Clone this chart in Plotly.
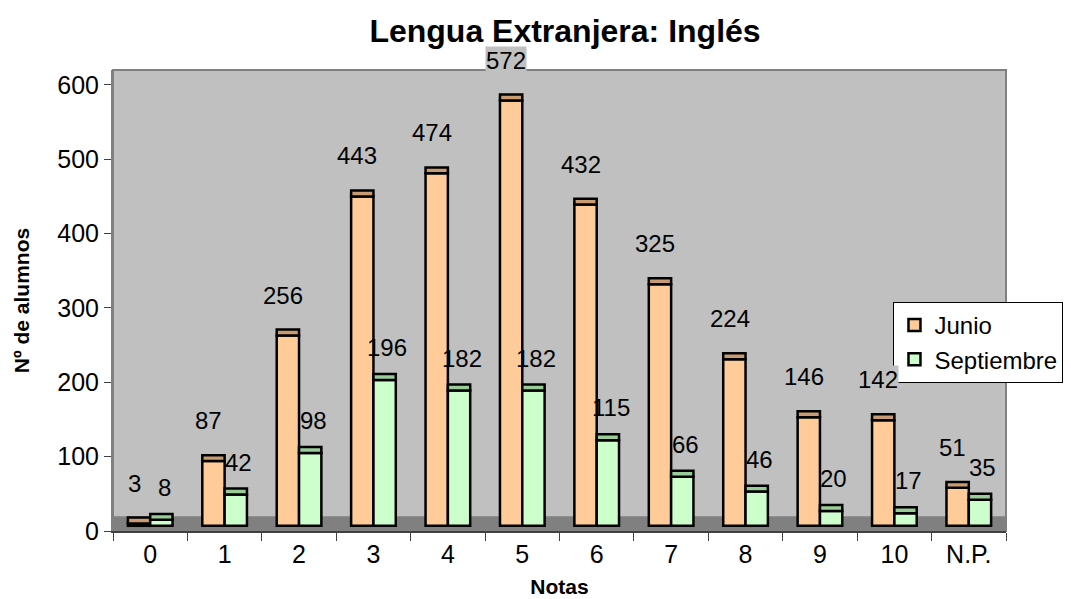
import plotly.graph_objects as go

# Notas y número de alumnos (junio / septiembre)
notas = ["0", "1", "2", "3", "4", "5", "6", "7", "8", "9", "10", "N.P."]
junio = [3, 87, 256, 443, 474, 572, 432, 325, 224, 146, 142, 51]
septiembre = [8, 42, 98, 196, 182, 182, 115, 66, 46, 20, 17, 35]

# pseudo-3D look of the original Excel chart
depth = 7   # front face lifted off the floor
cap = 8     # height of the visible top face
FONT = "Liberation Sans, Arial, sans-serif"

fig = go.Figure()

series = [
    ("Junio", junio, "#FFCC99", "#C89B73", "j"),
    ("Septiembre", septiembre, "#CCFFCC", "#99CC99", "s"),
]
for name, vals, color, top, grp in series:
    fig.add_trace(go.Bar(
        x=notas, y=vals, base=[depth] * len(vals), name=name,
        offsetgroup=grp, marker=dict(color=color, line=dict(color="black", width=2.5)),
        hoverinfo="skip",
    ))
    fig.add_trace(go.Bar(
        x=notas, y=[cap] * len(vals), base=[v + depth for v in vals], name=name,
        offsetgroup=grp, showlegend=False,
        marker=dict(color=top, line=dict(color="black", width=2.5)),
        hoverinfo="skip",
    ))

# data labels
for i, n in enumerate(notas):
    fig.add_annotation(x=n, y=junio[i] + depth + cap, yanchor="bottom", xshift=-16,
                       yshift=20, text=str(junio[i]), showarrow=False,
                       bgcolor="#C0C0C0", borderpad=0,
                       font=dict(size=24, color="black", family=FONT))
    fig.add_annotation(x=n, y=septiembre[i] + depth + cap, yanchor="bottom", xshift=14,
                       yshift=11, text=str(septiembre[i]), showarrow=False,
                       font=dict(size=24, color="black", family=FONT))

# dark floor
fig.add_shape(type="rect", xref="paper", yref="y", x0=0, x1=1, y0=0, y1=20,
              fillcolor="#808080", line_width=0, layer="below")

# the page adds an 8px body margin, so the figure is 8px smaller than the window
fig.update_layout(
    width=1063, height=591,
    margin=dict(l=105, r=65, t=62, b=68, autoexpand=False),
    paper_bgcolor="white", plot_bgcolor="#C0C0C0",
    barmode="group", bargap=0.4, bargroupgap=0,
    font=dict(family=FONT, size=25, color="black"),
    title=dict(text="<b>Lengua Extranjera: Inglés</b>", x=0.524, xanchor="center",
               y=0.961, yanchor="middle", font=dict(size=32, family=FONT)),
    legend=dict(x=0.874, y=0.497, xanchor="left", yanchor="top",
                bgcolor="white", bordercolor="black", borderwidth=1,
                font=dict(size=24, family=FONT)),
    showlegend=True,
)

fig.update_xaxes(
    type="category", showgrid=False, showline=True, linecolor="#404040", linewidth=2,
    ticks="outside", tickson="boundaries", ticklen=8, tickcolor="#404040",
    title=dict(text="<b>Notas</b>", font=dict(size=21, family=FONT), standoff=12),
    automargin=False,
)
fig.update_yaxes(
    range=[0, 620], dtick=100, showgrid=False, zeroline=False,
    showline=True, linecolor="#808080", linewidth=2,
    ticks="outside", ticklen=7, tickcolor="#404040",
    title=dict(text="<b>Nº de alumnos</b>", font=dict(size=21, family=FONT), standoff=22),
    automargin=False,
)
# gray frame on top/right of the plot area
fig.add_shape(type="rect", xref="paper", yref="paper", x0=0, x1=1, y0=0, y1=1,
              line=dict(color="#808080", width=2), fillcolor="rgba(0,0,0,0)", layer="below")

fig.write_html("out.html")
